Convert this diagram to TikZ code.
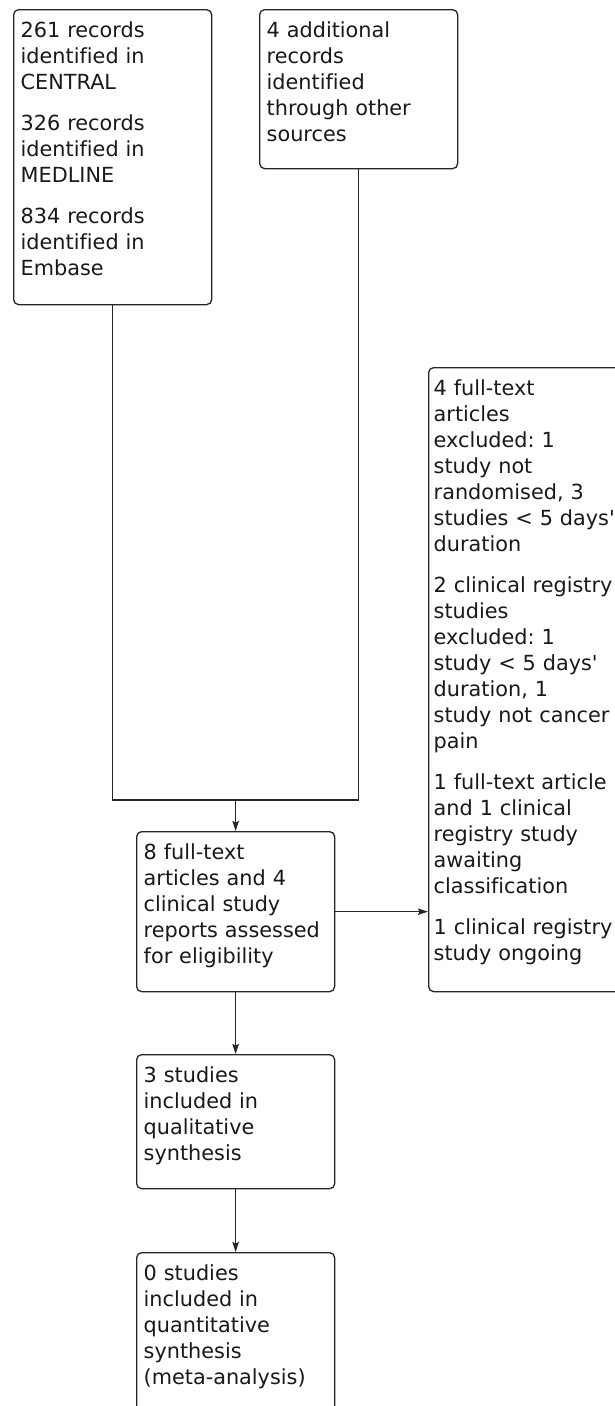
\documentclass[tikz,border=0pt]{standalone}
\usepackage{fontspec}
\setmainfont{DejaVu Sans}[Ligatures={NoCommon}]
\usetikzlibrary{arrows.meta}
\frenchspacing
\tikzset{
  boxnode/.style={draw=black!85, line width=1.3pt, rounded corners=5pt, inner sep=0pt, anchor=north west, minimum width=198pt},
  txt/.style={anchor=base west, inner sep=0pt, text width=260pt, align=left, text=black!90, font=\fontsize{20.8}{26}\selectfont\frenchspacing},
  conn/.style={draw=black!85, line width=1.3pt},
  arr/.style={conn, -{Stealth[length=10pt,width=6.5pt,inset=1.5pt]}}
}
\begin{document}
\begin{tikzpicture}[x=1pt,y=-1pt]
\useasboundingbox (0,0) rectangle (615,1406);
\clip (0,0) rectangle (615,1406);
\fill[white] (0,0) rectangle (615,1406);
% boxes
\node[boxnode, minimum height=295pt] (a) at (13,9) {};
\node[boxnode, minimum height=159pt] (b) at (259,9) {};
\node[boxnode, minimum height=160pt] (c) at (136,831) {};
\node[boxnode, minimum height=624pt] (d) at (428,367) {};
\node[boxnode, minimum height=134pt] (e) at (136,1054) {};
\node[boxnode, minimum height=190pt] (f) at (136,1252) {};
% texts
\node[txt] (ta) at ([xshift=7.5pt,yshift=-28pt]a.north west)
  {261 records\\identified in\\CENTRAL\\[15pt]326 records\\identified in\\MEDLINE\\[15pt]834 records\\identified in\\Embase};
\node[txt] (tb) at ([xshift=7.5pt,yshift=-28pt]b.north west)
  {4 additional\\records\\identified\\through other\\sources};
\node[txt] (tc) at ([xshift=7.5pt,yshift=-28pt]c.north west)
  {8 full-text\\articles and 4\\clinical study\\reports assessed\\for eligibility};
\node[txt] (td) at ([xshift=5.5pt,yshift=-28pt]d.north west)
  {4 full-text\\articles\\excluded: 1\\study not\\randomised, 3\\studies < 5 days\textquotesingle\\duration\\[15pt]2 clinical registry\\studies\\excluded: 1\\study < 5 days\textquotesingle\\duration, 1\\study not cancer\\pain\\[15pt]1 full-text article\\and 1 clinical\\registry study\\awaiting\\classification\\[15pt]1 clinical registry\\study ongoing};
\node[txt] (te) at ([xshift=7.5pt,yshift=-28pt]e.north west)
  {3 studies\\included in\\qualitative\\synthesis};
\node[txt] (tf) at ([xshift=7.5pt,yshift=-28pt]f.north west)
  {0 studies\\included in\\quantitative\\synthesis\\(meta-analysis)};
% connectors
\coordinate (join) at (c.north |- 0,800);
\draw[conn] (a.south) |- (join);
\draw[conn] (b.south) |- (join);
\draw[arr] (join) -- (c.north);
\draw[arr] (c.east) -- (c.east -| d.west);
\draw[arr] (c.south) -- (e.north);
\draw[arr] (e.south) -- (f.north);
\end{tikzpicture}
\end{document}
